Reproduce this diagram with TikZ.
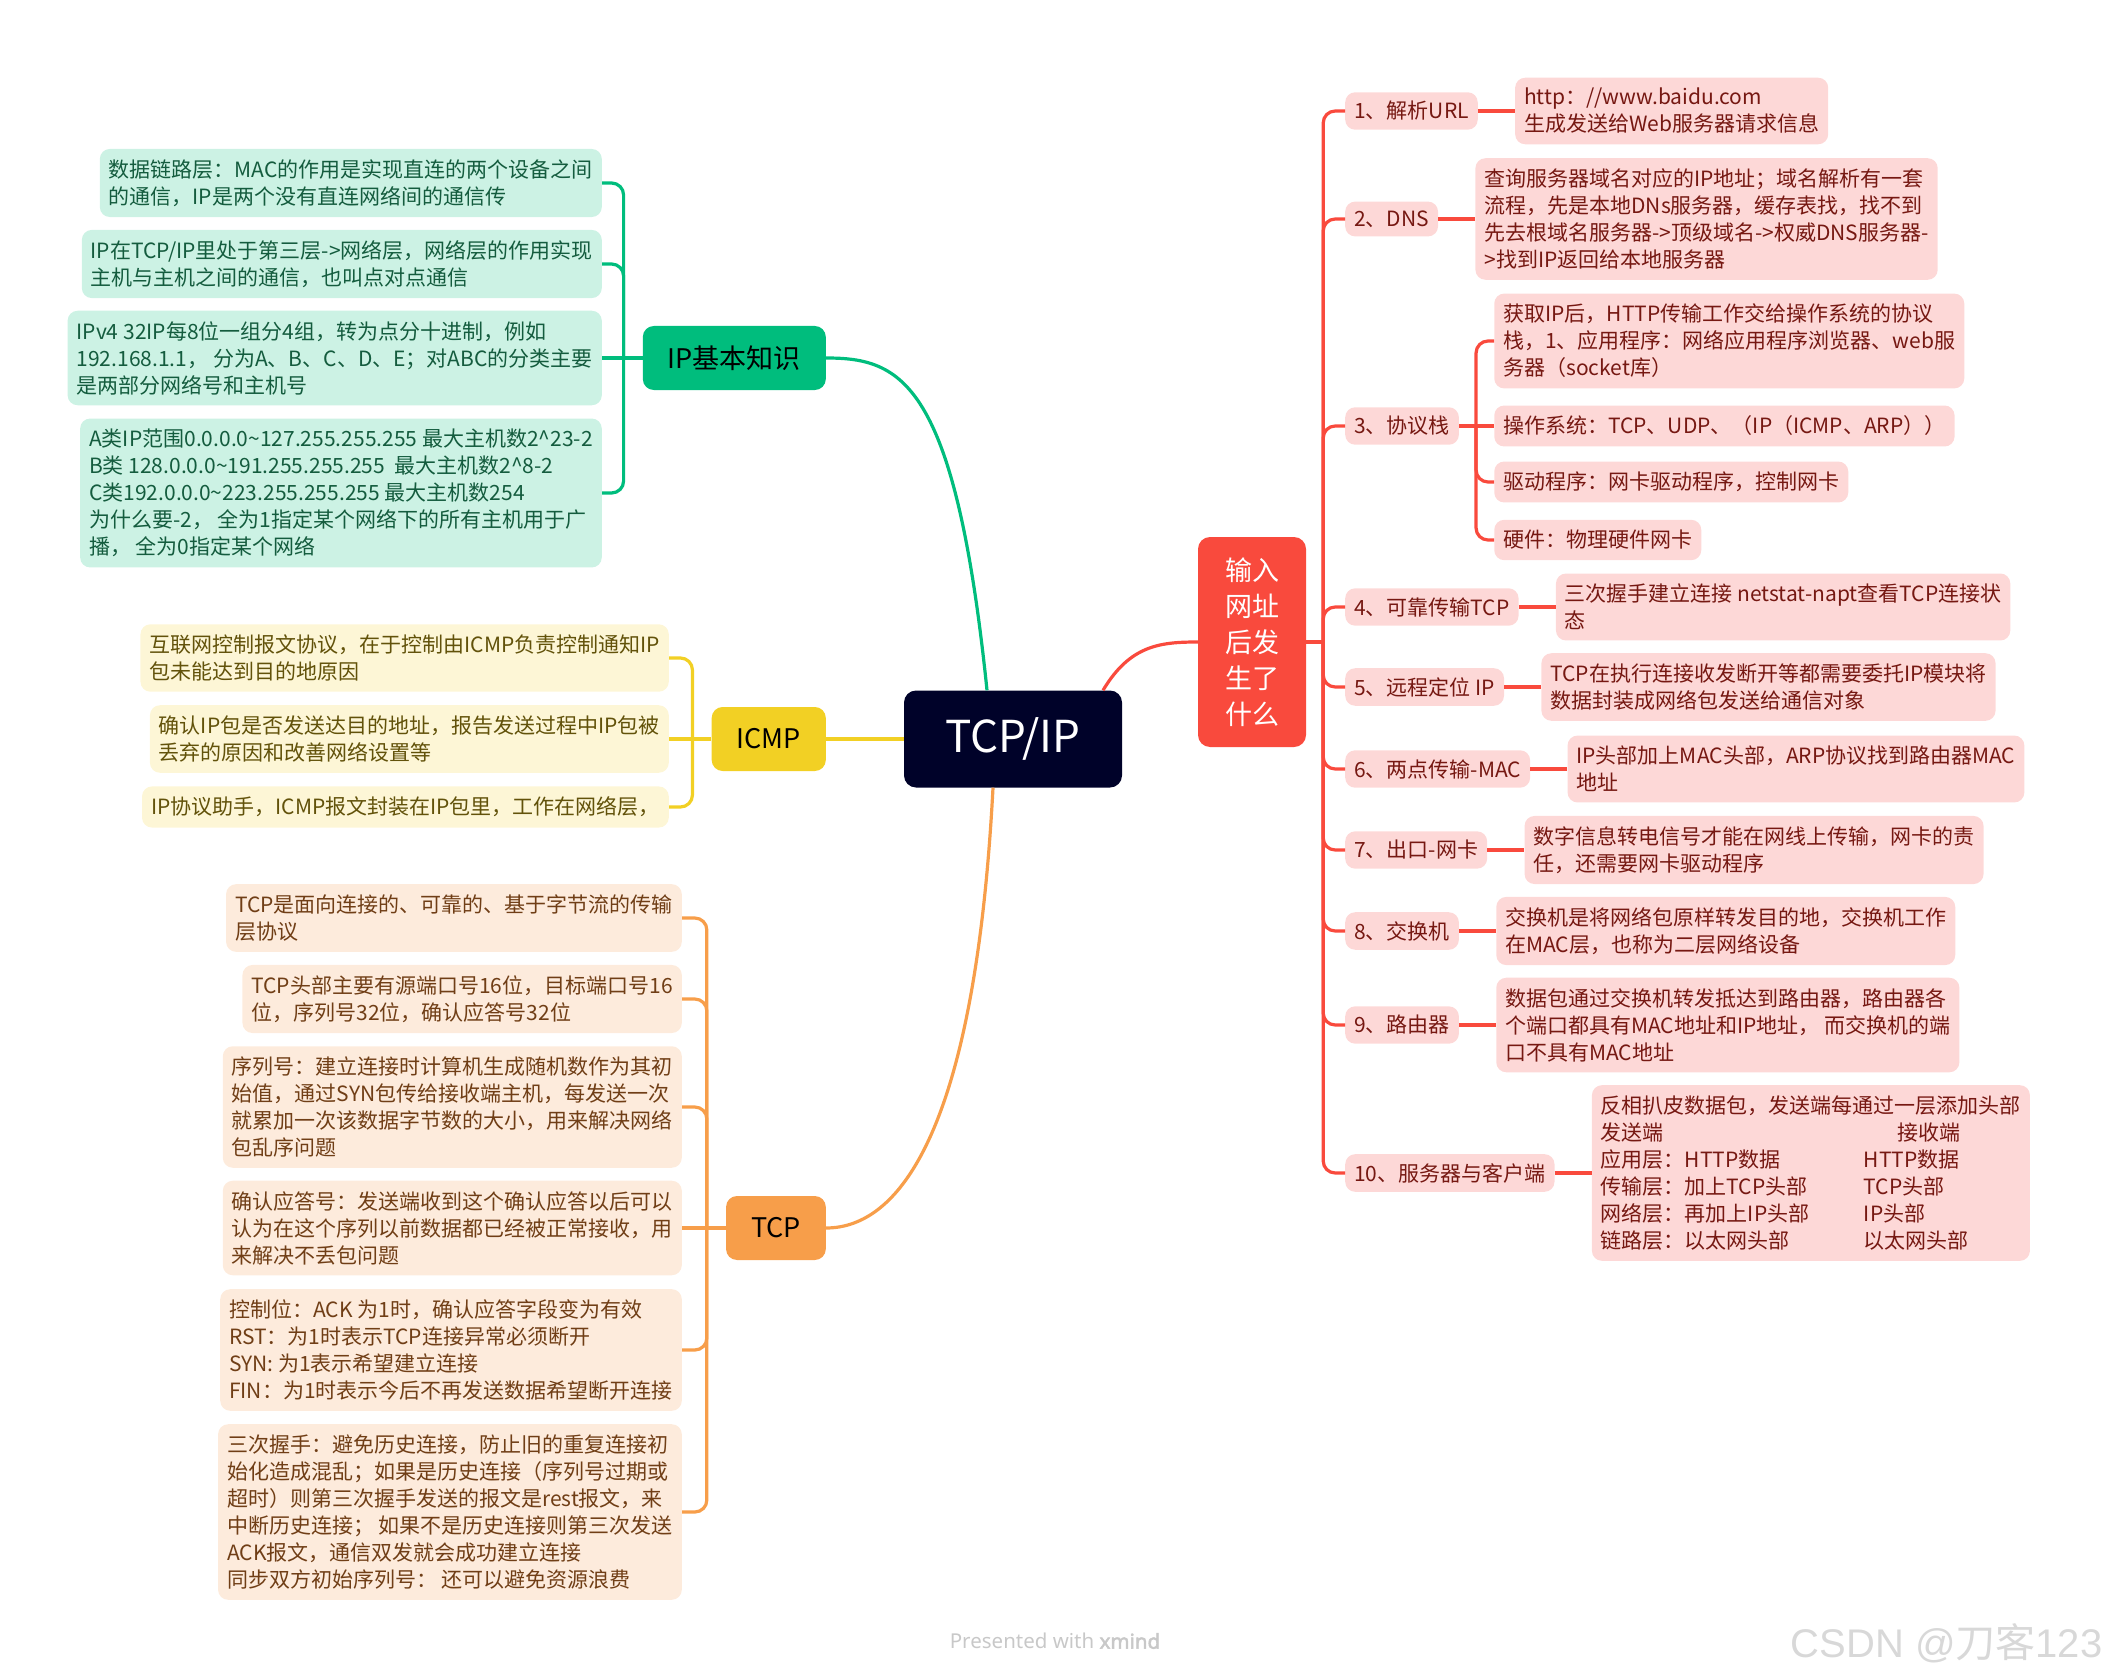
\documentclass[tikz,border=0pt]{standalone}
\usepackage{fontspec}
\setmainfont{Noto Sans CJK SC}
\newfontfamily\cjkfont{Noto Sans CJK SC}
\newfontfamily\creditfont{Noto Sans}
\newfontfamily\creditbold{Noto Sans}[FakeBold=2.5]
\newfontfamily\markfont{Liberation Sans}
\usepackage{tikz}
\usetikzlibrary{positioning}

\definecolor{rootnavy}{RGB}{0,2,41}
\definecolor{hubred}{RGB}{249,74,61}
\definecolor{redfill}{RGB}{253,216,215}
\definecolor{redtext}{RGB}{118,24,18}
\definecolor{ipgreen}{RGB}{0,189,125}
\definecolor{greenfill}{RGB}{204,242,228}
\definecolor{greentext}{RGB}{20,92,62}
\definecolor{icmpyellow}{RGB}{242,208,36}
\definecolor{yellowfill}{RGB}{253,246,214}
\definecolor{yellowtext}{RGB}{98,82,10}
\definecolor{tcporange}{RGB}{247,158,74}
\definecolor{orangefill}{RGB}{253,235,220}
\definecolor{orangetext}{RGB}{112,62,22}
\definecolor{creditgray}{RGB}{200,200,200}
\definecolor{markgray}{RGB}{216,216,216}

\begin{document}
\begin{tikzpicture}[
  x=1pt, y=-1pt,
  font=\fontsize{21}{27}\selectfont,
  rootbox/.style={rounded corners=12pt, fill=rootnavy, text=white,
                  minimum width=218pt, minimum height=97pt, font=\fontsize{44}{48}\selectfont},
  hubbox/.style={rounded corners=12pt, fill=hubred, text=white, align=center,
                 minimum width=108pt, minimum height=210pt, font=\fontsize{27}{36}\selectfont},
  topicbox/.style={rounded corners=11pt, minimum height=64pt, inner xsep=25pt,
                   text=black, font=\fontsize{27}{32}\selectfont},
  leafbox/.style={rounded corners=10pt, align=left, inner xsep=9pt, inner ysep=10.5pt},
  gleaf/.style={leafbox, fill=greenfill, text=greentext},
  yleaf/.style={leafbox, fill=yellowfill, text=yellowtext},
  oleaf/.style={leafbox, fill=orangefill, text=orangetext},
  rleaf/.style={leafbox, fill=redfill, text=redtext},
  rtopic/.style={rleaf, inner ysep=9pt},
  gline/.style={draw=ipgreen, line width=3.2pt, rounded corners=12pt},
  yline/.style={draw=icmpyellow, line width=3.2pt, rounded corners=12pt},
  oline/.style={draw=tcporange, line width=3.2pt, rounded corners=12pt},
  rline/.style={draw=hubred, line width=3.2pt, rounded corners=12pt},
]

\useasboundingbox (0,0) rectangle (2109,1677);

%% ── Centre ────────────────────────────────────────────────────────────────
\node[rootbox] (root) at (1013,739) {TCP/IP};
\node[hubbox]  (hub)  at (1252,642) {输入\\网址\\后发\\生了\\什么};

%% ── Left topics ───────────────────────────────────────────────────────────
\node[topicbox, fill=ipgreen,    anchor=east] (ipk)  at (826,358)  {IP基本知识};
\node[topicbox, fill=icmpyellow, anchor=east] (icmp) at (826,739)  {ICMP};
\node[topicbox, fill=tcporange,  anchor=east] (tcp)  at (826,1228) {TCP};

%% ── IP basics (green) ─────────────────────────────────────────────────────
\node[gleaf, anchor=east] (g1) at (602,183) {数据链路层：MAC的作用是实现直连的两个设备之间\\的通信，IP是两个没有直连网络间的通信传};
\node[gleaf, anchor=east] (g2) at (602,264) {IP在TCP/IP里处于第三层->网络层，网络层的作用实现\\主机与主机之间的通信，也叫点对点通信};
\node[gleaf, anchor=east] (g3) at (602,358) {IPv4 32IP每8位一组分4组，转为点分十进制，例如\\192.168.1.1， 分为A、B、C、D、E；对ABC的分类主要\\是两部分网络号和主机号};
\node[gleaf, anchor=east] (g4) at (602,493) {A类IP范围0.0.0.0\textasciitilde127.255.255.255 最大主机数2\textasciicircum23-2\\B类 128.0.0.0\textasciitilde191.255.255.255 \ 最大主机数2\textasciicircum8-2\\C类192.0.0.0\textasciitilde223.255.255.255 最大主机数254\\为什么要-2， 全为1指定某个网络下的所有主机用于广\\播， 全为0指定某个网络};

%% ── ICMP (yellow) ─────────────────────────────────────────────────────────
\node[yleaf, anchor=east] (y1) at (669,658) {互联网控制报文协议，在于控制由ICMP负责控制通知IP\\包未能达到目的地原因};
\node[yleaf, anchor=east] (y2) at (669,739) {确认IP包是否发送达目的地址，报告发送过程中IP包被\\丢弃的原因和改善网络设置等};
\node[yleaf, anchor=east] (y3) at (669,807) {IP协议助手，ICMP报文封装在IP包里，工作在网络层，};

%% ── TCP (orange) ──────────────────────────────────────────────────────────
\node[oleaf, anchor=east] (t1) at (682,918)  {TCP是面向连接的、可靠的、基于字节流的传输\\层协议};
\node[oleaf, anchor=east] (t2) at (682,999)  {TCP头部主要有源端口号16位，目标端口号16\\位，序列号32位，确认应答号32位};
\node[oleaf, anchor=east] (t3) at (682,1107) {序列号：建立连接时计算机生成随机数作为其初\\始值，通过SYN包传给接收端主机，每发送一次\\就累加一次该数据字节数的大小，用来解决网络\\包乱序问题};
\node[oleaf, anchor=east] (t4) at (682,1228) {确认应答号：发送端收到这个确认应答以后可以\\认为在这个序列以前数据都已经被正常接收，用\\来解决不丢包问题};
\node[oleaf, anchor=east] (t5) at (682,1350) {控制位：ACK 为1时，确认应答字段变为有效\\RST：为1时表示TCP连接异常必须断开\\SYN: 为1表示希望建立连接\\FIN：为1时表示今后不再发送数据希望断开连接};
\node[oleaf, anchor=east] (t6) at (682,1512) {三次握手：避免历史连接，防止旧的重复连接初\\始化造成混乱；如果是历史连接（序列号过期或\\超时）则第三次握手发送的报文是rest报文，来\\中断历史连接； 如果不是历史连接则第三次发送\\ACK报文，通信双发就会成功建立连接\\同步双方初始序列号： 还可以避免资源浪费};

%% ── Steps after entering a URL (red) ──────────────────────────────────────
\node[rtopic, anchor=west] (r1)  at (1345,111)  {1、解析URL};
\node[rtopic, anchor=west] (r2)  at (1345,219)  {2、DNS};
\node[rtopic, anchor=west] (r3)  at (1345,426)  {3、协议栈};
\node[rtopic, anchor=west] (r4)  at (1345,607)  {4、可靠传输TCP};
\node[rtopic, anchor=west] (r5)  at (1345,687)  {5、远程定位 IP};
\node[rtopic, anchor=west] (r6)  at (1345,769)  {6、两点传输-MAC};
\node[rtopic, anchor=west] (r7)  at (1345,850)  {7、出口-网卡};
\node[rtopic, anchor=west] (r8)  at (1345,931)  {8、交换机};
\node[rtopic, anchor=west] (r9)  at (1345,1025) {9、路由器};
\node[rtopic, anchor=west] (r10) at (1345,1173) {10、服务器与客户端};

\node[rleaf, right=37pt of r1] (l1) {http：//www.baidu.com\\生成发送给Web服务器请求信息};
\node[rleaf, right=37pt of r2] (l2) {查询服务器域名对应的IP地址；域名解析有一套\\流程，先是本地DNs服务器，缓存表找，找不到\\先去根域名服务器->顶级域名->权威DNS服务器-\\>找到IP返回给本地服务器};
\node[rleaf, right=35pt of r3] (l3b) {操作系统：TCP、UDP、（IP（ICMP、ARP））};
\node[rleaf, anchor=west] (l3a) at (l3b.west |- 0,341) {获取IP后，HTTP传输工作交给操作系统的协议\\栈，1、应用程序：网络应用程序浏览器、web服\\务器（socket库）};
\node[rleaf, anchor=west] (l3c) at (l3b.west |- 0,482) {驱动程序：网卡驱动程序，控制网卡};
\node[rleaf, anchor=west] (l3d) at (l3b.west |- 0,540) {硬件：物理硬件网卡};
\node[rleaf, right=37pt of r4] (l4) {三次握手建立连接 netstat-napt查看TCP连接状\\态};
\node[rleaf, right=37pt of r5] (l5) {TCP在执行连接收发断开等都需要委托IP模块将\\数据封装成网络包发送给通信对象};
\node[rleaf, right=37pt of r6] (l6) {IP头部加上MAC头部，ARP协议找到路由器MAC\\地址};
\node[rleaf, right=37pt of r7] (l7) {数字信息转电信号才能在网线上传输，网卡的责\\任，还需要网卡驱动程序};
\node[rleaf, right=37pt of r8] (l8) {交换机是将网络包原样转发目的地，交换机工作\\在MAC层，也称为二层网络设备};
\node[rleaf, right=37pt of r9] (l9) {数据包通过交换机转发抵达到路由器，路由器各\\个端口都具有MAC地址和IP地址， 而交换机的端\\口不具有MAC地址};
\node[rleaf, right=37pt of r10] (l10) {反相扒皮数据包，发送端每通过一层添加头部\\
  \makebox[297pt][l]{发送端}接收端\\
  \makebox[263pt][l]{应用层：HTTP数据}HTTP数据\\
  \makebox[263pt][l]{传输层：加上TCP头部}TCP头部\\
  \makebox[263pt][l]{网络层：再加上IP头部}IP头部\\
  \makebox[263pt][l]{链路层：以太网头部}以太网头部};

%% ── Main branches ─────────────────────────────────────────────────────────
\draw[gline] ([xshift=-26pt]root.north) .. controls +(-32,-310) and +(75,0) .. (ipk.east);
\draw[yline] (root.west) -- (icmp.east);
\draw[oline] ([xshift=-20pt]root.south) .. controls +(-18,342) and +(74,0) .. (tcp.east);
\draw[rline] ([xshift=90pt]root.north) .. controls +(27,-45) and +(-38,0) .. (hub.west);

%% ── Green brackets ────────────────────────────────────────────────────────
\coordinate (gsp) at ([xshift=-19pt]ipk.west);
\draw[gline] (ipk.west) -- (g3.east);
\draw[gline] (gsp) |- (g1.east);
\draw[gline] (gsp) |- (g2.east);
\draw[gline] (gsp) |- (g4.east);

%% ── Yellow brackets ───────────────────────────────────────────────────────
\coordinate (ysp) at ([xshift=-19pt]icmp.west);
\draw[yline] (icmp.west) -- (y2.east);
\draw[yline] (ysp) |- (y1.east);
\draw[yline] (ysp) |- (y3.east);

%% ── Orange brackets ───────────────────────────────────────────────────────
\coordinate (tsp) at ([xshift=-19pt]tcp.west);
\draw[oline] (tcp.west) -- (t4.east);
\draw[oline] (tsp) |- (t1.east);
\draw[oline] (tsp) |- (t2.east);
\draw[oline] (tsp) |- (t3.east);
\draw[oline] (tsp) |- (t5.east);
\draw[oline] (tsp) |- (t6.east);

%% ── Red spine ─────────────────────────────────────────────────────────────
\coordinate (rsp) at ([xshift=17pt]hub.east);
\draw[rline] (hub.east) -- (rsp);
\draw[rline] (rsp) |- (r1.west);
\draw[rline] (rsp) |- (r2.west);
\draw[rline] (rsp) |- (r3.west);
\draw[rline] (rsp) |- (r4.west);
\draw[rline] (rsp) |- (r5.west);
\draw[rline] (rsp) |- (r6.west);
\draw[rline] (rsp) |- (r7.west);
\draw[rline] (rsp) |- (r8.west);
\draw[rline] (rsp) |- (r9.west);
\draw[rline] (rsp) |- (r10.west);

\draw[rline] (r1) -- (l1);
\draw[rline] (r2) -- (l2);
\coordinate (psp) at ([xshift=17pt]r3.east);
\draw[rline] (r3) -- (l3b);
\draw[rline] (psp) |- (l3a.west);
\draw[rline] (psp) |- (l3c.west);
\draw[rline] (psp) |- (l3d.west);
\draw[rline] (r4) -- (l4);
\draw[rline] (r5) -- (l5);
\draw[rline] (r6) -- (l6);
\draw[rline] (r7) -- (l7);
\draw[rline] (r8) -- (l8);
\draw[rline] (r9) -- (l9);
\draw[rline] (r10) -- (l10);

%% ── Footer marks ──────────────────────────────────────────────────────────
\node[font=\creditfont\fontsize{20.5}{24}\selectfont, text=creditgray] (credit) at (1055,1641) {Presented with {\creditbold xmind}};
\node[font=\markfont\fontsize{40}{44}\selectfont, text=markgray, anchor=east] (mark) at (2106,1643) {CSDN @{\cjkfont 刀客}123};

\end{tikzpicture}
\end{document}
